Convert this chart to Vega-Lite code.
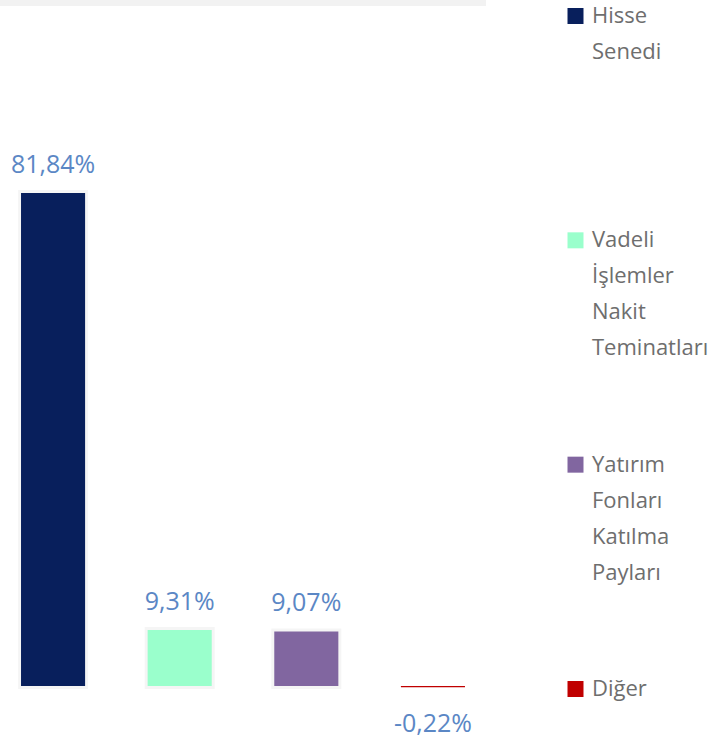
{
  "$schema": "https://vega.github.io/schema/vega-lite/v6.json",
  "padding": 0,
  "spacing": 80,
  "background": "white",
  "config": {"view": {"stroke": null}},
  "datasets": {
    "funds": [
      {"cat": "Hisse Senedi", "value": 81.84, "label": "81,84%", "lines": ["Hisse", "Senedi"]},
      {"cat": "Vadeli İşlemler Nakit Teminatları", "value": 9.31, "label": "9,31%", "lines": ["Vadeli", "İşlemler", "Nakit", "Teminatları"]},
      {"cat": "Yatırım Fonları Katılma Payları", "value": 9.07, "label": "9,07%", "lines": ["Yatırım", "Fonları", "Katılma", "Payları"]},
      {"cat": "Diğer", "value": -0.22, "label": "-0,22%", "lines": ["Diğer"]}
    ]
  },
  "hconcat": [
    {
      "width": 486,
      "height": 738,
      "data": {"name": "funds"},
      "encoding": {
        "x": {"field": "cat", "type": "nominal", "sort": null, "axis": null,
              "scale": {"paddingInner": 0.494, "paddingOuter": 0.166}},
        "y": {"field": "value", "type": "quantitative", "axis": null,
              "scale": {"domain": [-8.63, 113.88], "nice": false, "zero": false}}
      },
      "layer": [
        {
          "mark": {"type": "rect", "color": "#F2F2F2"},
          "encoding": {"x": null, "y": {"datum": 113.88, "type": "quantitative"}, "y2": {"datum": 112.88}}
        },
        {
          "transform": [{"filter": "datum.value > 0"}],
          "mark": {"type": "bar", "fillOpacity": 0, "stroke": "#000000", "strokeOpacity": 0.04, "strokeWidth": 6}
        },
        {
          "mark": {"type": "bar"},
          "encoding": {
            "color": {"field": "cat", "type": "nominal", "sort": null, "legend": null,
                      "scale": {"range": ["#081F5C", "#9AFFCC", "#8166A0", "#C00000"]}}
          }
        },
        {
          "transform": [{"filter": "datum.value >= 0"}],
          "mark": {"type": "text", "font": "Open Sans", "fontSize": 25, "color": "#5B87C5", "baseline": "alphabetic", "dy": -20},
          "encoding": {"text": {"field": "label"}}
        },
        {
          "transform": [{"filter": "datum.value < 0"}],
          "mark": {"type": "text", "font": "Open Sans", "fontSize": 25, "color": "#5B87C5", "baseline": "alphabetic", "dy": 45},
          "encoding": {"text": {"field": "label"}}
        }
      ]
    },
    {
      "width": 19,
      "height": 738,
      "data": {"name": "funds"},
      "encoding": {
        "y": {"field": "cat", "type": "nominal", "sort": null, "axis": null,
              "scale": {"type": "point", "padding": 0, "range": [16, 689]}}
      },
      "layer": [
        {
          "mark": {"type": "point", "shape": "square", "filled": true, "size": 256, "opacity": 1},
          "encoding": {
            "color": {"field": "cat", "type": "nominal", "sort": null, "legend": null,
                      "scale": {"range": ["#081F5C", "#9AFFCC", "#8166A0", "#C00000"]}}
          }
        },
        {
          "mark": {"type": "text", "font": "Open Sans", "fontSize": 22, "color": "#6E6E6E", "align": "left", "baseline": "alphabetic", "dx": 16.5, "dy": 7, "lineHeight": 36},
          "encoding": {"text": {"field": "lines"}}
        }
      ]
    }
  ]
}
